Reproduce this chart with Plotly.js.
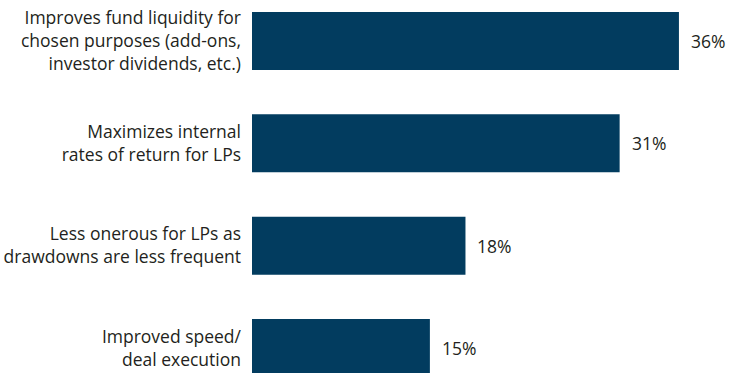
<!DOCTYPE html>
<html>
<head>
<meta charset="utf-8">
<script src="https://cdn.plot.ly/plotly-3.0.1.min.js"></script>
<style>html,body{margin:0;padding:0;background:#fff;}#chart{width:745px;height:373px;}</style>
</head>
<body>
<div id="chart"></div>
<script>
const categories = [
  "Improves fund liquidity for<br>chosen purposes (add-ons,<br>investor dividends, etc.)",
  "Maximizes internal<br>rates of return for LPs",
  "Less onerous for LPs as<br>drawdowns are less frequent",
  "Improved speed/<br>deal execution"
];
const values = [36, 31, 18, 15];
const valueLabels = ["36%", "31%", "18%", "15%"];

const barColor = "#023c5f";
const textColor = "#231f20";
const fontFam = "Open Sans, Liberation Sans, Arial, sans-serif";

const trace = {
  type: "bar",
  orientation: "h",
  y: categories,
  x: values,
  width: 0.567,
  marker: {color: barColor},
  hoverinfo: "skip"
};

const annotations = values.map((v, i) => ({
  x: v, y: categories[i], xref: "x", yref: "y",
  text: valueLabels[i], showarrow: false,
  xanchor: "left", xshift: 10,
  font: {family: fontFam, size: 17.5, color: textColor}
}));

const layout = {
  width: 745, height: 373,
  margin: {l: 252, r: 0, t: 0, b: 0, pad: 0},
  paper_bgcolor: "#fff", plot_bgcolor: "#fff",
  showlegend: false,
  xaxis: {range: [0, 41.57], visible: false, fixedrange: true},
  yaxis: {
    type: "category",
    range: [3.244, -0.4007],
    showgrid: false, zeroline: false, showline: false,
    ticks: "", ticklabelstandoff: 10,
    tickfont: {family: fontFam, size: 17.5, color: textColor},
    fixedrange: true
  },
  annotations: annotations,
  font: {family: fontFam}
};

Plotly.newPlot("chart", [trace], layout, {displayModeBar: false, staticPlot: true});
</script>
</body>
</html>
